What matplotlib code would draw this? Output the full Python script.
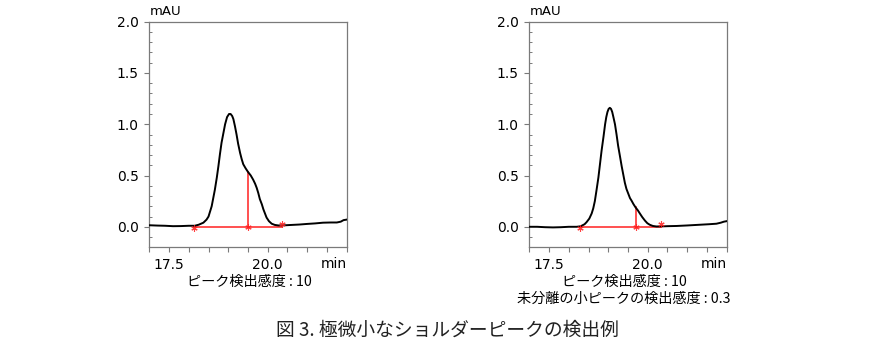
import matplotlib.pyplot as plt
from matplotlib.ticker import MultipleLocator, FixedLocator

plt.rcParams['font.family'] = ['DejaVu Sans', 'Noto Sans CJK JP']

# 単一ピーク＋ショルダー（ピーク検出感度 10）
left_t = [17.0, 17.2, 17.4, 17.6, 17.8, 18.0, 18.15, 18.25, 18.37, 18.45,
          18.5, 18.58, 18.66, 18.71, 18.75, 18.79, 18.83, 18.88, 18.92, 18.97,
          19.02, 19.06, 19.1, 19.13, 19.17, 19.21, 19.25, 19.3, 19.34, 19.38,
          19.44, 19.5, 19.57, 19.63, 19.68, 19.72, 19.76, 19.8, 19.85, 19.89,
          19.93, 19.97, 20.03, 20.1, 20.18, 20.27, 20.4, 20.6, 20.8, 21.0,
          21.2, 21.4, 21.6, 21.75, 21.85, 21.92, 22.0]
left_v = [0.015, 0.012, 0.01, 0.006, 0.007, 0.01, 0.01, 0.02, 0.04, 0.07,
          0.10, 0.20, 0.36, 0.48, 0.59, 0.71, 0.82, 0.92, 1.0, 1.07,
          1.10, 1.10, 1.08, 1.05, 0.98, 0.90, 0.81, 0.72, 0.66, 0.61,
          0.57, 0.535, 0.50, 0.46, 0.42, 0.38, 0.33, 0.27, 0.22, 0.17,
          0.13, 0.09, 0.055, 0.03, 0.018, 0.013, 0.014, 0.018, 0.022, 0.028,
          0.033, 0.04, 0.042, 0.042, 0.05, 0.065, 0.07]

# 未分離の小ピーク検出感度 0.3
right_t = [17.0, 17.2, 17.4, 17.6, 17.8, 18.0, 18.2, 18.3, 18.4, 18.45,
           18.52, 18.58, 18.62, 18.66, 18.7, 18.75, 18.79, 18.83, 18.88, 18.92,
           18.95, 18.98, 19.01, 19.04, 19.07, 19.1, 19.13, 19.17, 19.21, 19.25,
           19.3, 19.34, 19.38, 19.42, 19.46, 19.51, 19.55, 19.59, 19.64, 19.69,
           19.75, 19.8, 19.86, 19.93, 19.99, 20.05, 20.13, 20.22, 20.35, 20.5,
           20.73, 21.0, 21.32, 21.55, 21.74, 21.85, 21.93, 22.0]
right_v = [0.0, 0.0, -0.004, -0.006, -0.004, 0.0, 0.0, 0.005, 0.025, 0.045,
           0.08, 0.13, 0.18, 0.25, 0.35, 0.48, 0.61, 0.74, 0.88, 1.0,
           1.07, 1.12, 1.15, 1.16, 1.15, 1.12, 1.07, 1.0, 0.9, 0.79,
           0.68, 0.59, 0.51, 0.43, 0.37, 0.32, 0.28, 0.255, 0.22, 0.19,
           0.16, 0.13, 0.095, 0.06, 0.035, 0.02, 0.008, 0.003, 0.004, 0.006,
           0.008, 0.013, 0.02, 0.025, 0.03, 0.04, 0.05, 0.055]

# ピーク開始・分割点・終了 (min) と分割点の高さ
left_marks = [18.14, 19.5, 20.37]
left_split_h = 0.535
right_marks = [18.29, 19.69, 20.34]
right_split_h = 0.19

x_ticks = [17.5, 20.0]
x_ticklabels = ['17.5', '20.0']
captions_left = ['ピーク検出感度 : 10']
captions_right = ['ピーク検出感度 : 10', '未分離の小ピークの検出感度 : 0.3']
title = '図 3. 極微小なショルダーピークの検出例'

W, H = 896, 347
fig = plt.figure(figsize=(W / 100, H / 100), dpi=100)

spine_c = '#7a7a7a'
red = '#ff2020'


def chrom(ax, t, v, marks, split_h):
    ax.plot(t, v, color='black', lw=1.4, zorder=3)
    start, split, end = marks
    ax.plot([start, end], [0, 0], color=red, lw=1.1, zorder=2)
    ax.plot([split, split], [0, split_h], color=red, lw=1.1, zorder=2)
    mk = dict(marker=(6, 2, 0), color=red, ms=4.5, mew=0.8, alpha=0.85, zorder=4)
    ax.plot([start], [-0.015], **mk)
    ax.plot([split], [0], **mk)
    ax.plot([end], [0.025], **mk)

    ax.set_xlim(17.0, 22.0)
    ax.set_ylim(-0.2, 2.0)
    ax.xaxis.set_major_locator(FixedLocator(x_ticks))
    ax.set_xticklabels(x_ticklabels)
    ax.xaxis.set_minor_locator(MultipleLocator(0.5))
    ax.yaxis.set_major_locator(FixedLocator([0.0, 0.5, 1.0, 1.5, 2.0]))
    ax.yaxis.set_minor_locator(MultipleLocator(0.1))
    ax.tick_params(axis='x', which='both', direction='out', length=3.5,
                   width=0.8, color=spine_c, labelsize=10, pad=4)
    ax.tick_params(axis='y', which='major', direction='out', length=3.5,
                   width=0.8, color=spine_c, labelsize=10, pad=4)
    ax.tick_params(axis='y', which='minor', direction='in', length=2.5,
                   width=0.7, color=spine_c)
    for s in ax.spines.values():
        s.set_color(spine_c)
        s.set_linewidth(0.9)
    ax.text(0.0, 1.015, 'mAU', transform=ax.transAxes, fontsize=9.5,
            ha='left', va='bottom')
    ax.text(1.0, -0.045, 'min', transform=ax.transAxes, fontsize=10,
            ha='right', va='top')


def px_axes(x0, x1, y0, y1):
    return fig.add_axes([x0 / W, 1 - y1 / H, (x1 - x0) / W, (y1 - y0) / H])


ax1 = px_axes(149.3, 346.7, 21.7, 247.3)
chrom(ax1, left_t, left_v, left_marks, left_split_h)
ax2 = px_axes(529.3, 726.7, 21.7, 247.3)
chrom(ax2, right_t, right_v, right_marks, right_split_h)

jp = ['Noto Sans CJK JP']
for i, c in enumerate(captions_left):
    fig.text(249.5 / W, 1 - (282 + 17 * i) / H, c, family=jp, fontsize=10.2,
             ha='center', va='center')
for i, c in enumerate(captions_right):
    fig.text(624 / W, 1 - (282 + 17 * i) / H, c, family=jp, fontsize=10.2,
             ha='center', va='center')
fig.text(447.5 / W, 1 - 330 / H, title, family=jp, fontsize=13.5,
         ha='center', va='center', color='#222222')

fig.savefig('out.png', dpi=100)
